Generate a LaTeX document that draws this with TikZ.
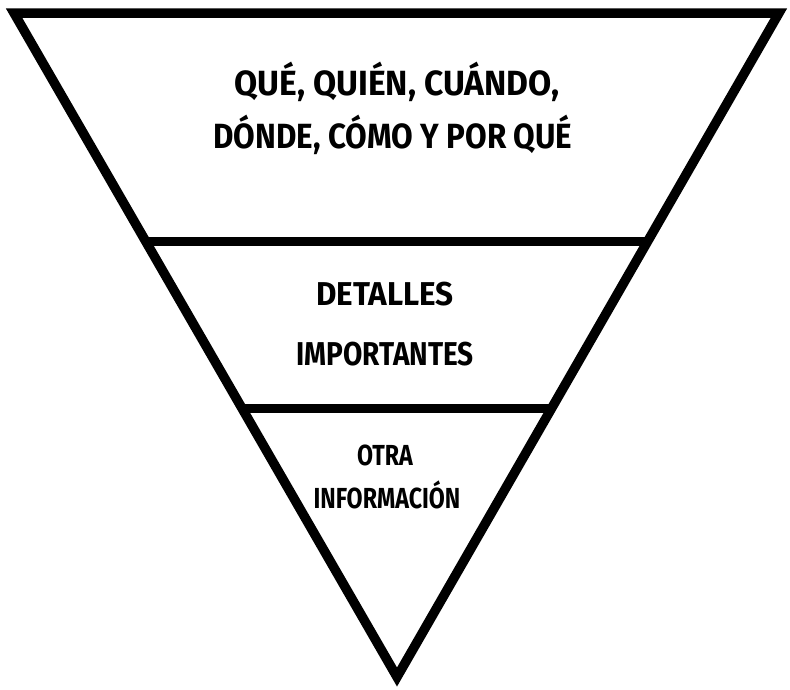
\documentclass[tikz,border=0pt]{standalone}
\usepackage{fontspec}
\setmainfont{Fira Sans}[FakeStretch=0.8]
\usetikzlibrary{calc}
\begin{document}
\begin{tikzpicture}[x=1pt,y=-1pt,
  edge/.style={line width=9.5pt,line join=miter,miter limit=10},
  bar/.style={line width=9pt},
  lbl/.style={anchor=base,inner sep=0pt,font=\bfseries}]
\useasboundingbox (0,0) rectangle (790,689);
\coordinate (tl) at (14,13);
\coordinate (tr) at (779,13);
\coordinate (ap) at (397,677);
\draw[edge] (tl) -- (tr) -- (ap) -- cycle;
\coordinate (l1) at ($(tl)!0.3434!(ap)$);
\coordinate (r1) at ($(tr)!0.3434!(ap)$);
\coordinate (l2) at ($(tl)!0.5949!(ap)$);
\coordinate (r2) at ($(tr)!0.5949!(ap)$);
\draw[bar] (l1) -- (r1);
\draw[bar] (l2) -- (r2);
\node[lbl,font=\fontsize{35}{40}\selectfont\bfseries] (t1) at (397,95) {\scalebox{1.2}[1]{QUÉ, QUIÉN, CUÁNDO,}};
\node[lbl,font=\fontsize{35}{40}\selectfont\bfseries] (t2) at (393,148) {\scalebox{1.12}[1]{DÓNDE, CÓMO Y POR QUÉ}};
\node[lbl,font=\fontsize{33}{40}\selectfont\bfseries] (m1) at (385,305) {\scalebox{1.19}[1]{DETALLES}};
\node[lbl,font=\fontsize{33}{40}\selectfont\bfseries] (m2) at (385,365) {\scalebox{1.06}[1]{IMPORTANTES}};
\node[lbl,font=\fontsize{29}{34}\selectfont\bfseries] (b1) at (385,465) {OTRA};
\node[lbl,font=\fontsize{29}{34}\selectfont\bfseries] (b2) at (387,508) {INFORMACIÓN};
\end{tikzpicture}
\end{document}
